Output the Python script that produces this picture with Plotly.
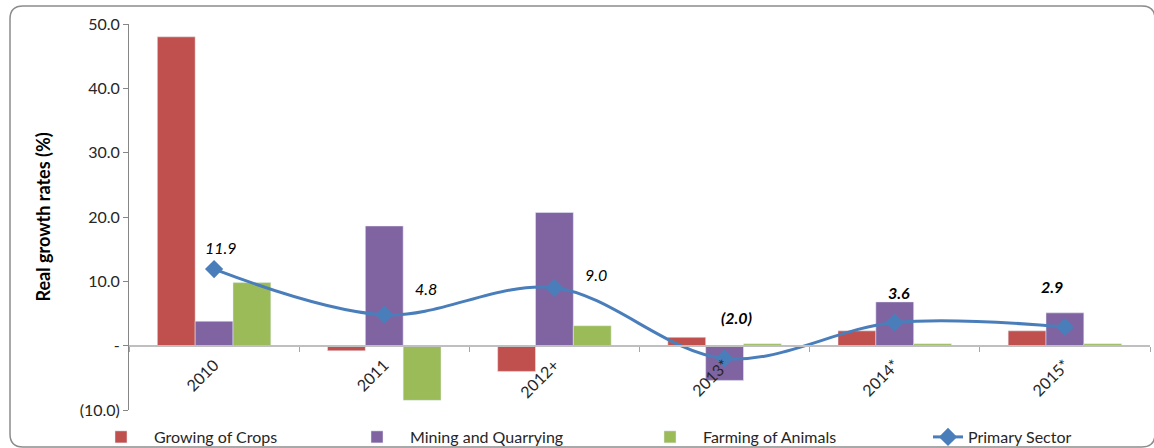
import plotly.graph_objects as go

# ---- data ----
categories = ['2010', '2011', '2012+', '2013*', '2014*', '2015*']
growing_of_crops = [48.0, -0.8, -4.0, 1.3, 2.3, 2.3]
mining_and_quarrying = [3.8, 18.6, 20.7, -5.4, 6.8, 5.1]
farming_of_animals = [9.8, -8.5, 3.1, 0.3, 0.3, 0.3]
primary_sector = [11.9, 4.8, 9.0, -2.0, 3.6, 2.9]
y_tick_values = [-10, 0, 10, 20, 30, 40, 50]
y_tick_labels = ['(10.0)', '-', '10.0', '20.0', '30.0', '40.0', '50.0']

# ---- styling ----
W, H = 1154, 448
ML, MR, MT, MB = 129, 4, 24, 38
PW, PH = W - ML - MR, H - MT - MB
FONT = 'Lato'
TXT = '#262626'

def px_x(px):
    return (px - ML) / PW

def px_y(py):
    return (H - MB - py) / PH

def fmt(v):
    return f'({abs(v):.1f})' if v < 0 else f'{v:.1f}'

label_offsets = [(7, 22), (42, 26), (42, 13), (12, 41), (4, 30), (-13, 41)]
label_bold = [False, False, False, True, True, True]

fig = go.Figure()
fig.add_trace(go.Bar(x=categories, y=growing_of_crops, name='Growing of Crops',
                     marker=dict(color='#C0504D'), legend='legend'))
fig.add_trace(go.Bar(x=categories, y=mining_and_quarrying, name='Mining and Quarrying',
                     marker=dict(color='#8064A2'), legend='legend2'))
fig.add_trace(go.Bar(x=categories, y=farming_of_animals, name='Farming of Animals',
                     marker=dict(color='#9BBB59'), legend='legend3'))
fig.add_trace(go.Scatter(x=categories, y=primary_sector, name='Primary Sector',
                         mode='lines+markers',
                         line=dict(color='#4A7EBB', width=3, shape='spline', smoothing=1),
                         marker=dict(symbol='diamond', size=14, color='#4A7EBB'),
                         legend='legend4'))

annotations = []
for i, (v, (dx, dy), b) in enumerate(zip(primary_sector, label_offsets, label_bold)):
    t = f'<i>{fmt(v)}</i>'
    if b:
        t = f'<b>{t}</b>'
    annotations.append(dict(x=i, y=v, xref='x', yref='y', text=t, showarrow=False,
                            xshift=dx, yshift=dy,
                            font=dict(family=FONT, size=16, color='#000000')))

# rounded border
x0, x1, y0, y1, r = px_x(10), px_x(1155), px_y(6), px_y(447), 13
rx, ry = r / PW, r / PH
path = (f'M {x0+rx},{y0} L {x1-rx},{y0} Q {x1},{y0} {x1},{y0-ry} '
        f'L {x1},{y1+ry} Q {x1},{y1} {x1-rx},{y1} '
        f'L {x0+rx},{y1} Q {x0},{y1} {x0},{y1+ry} '
        f'L {x0},{y0-ry} Q {x0},{y0} {x0+rx},{y0} Z')

leg_common = dict(orientation='h', xanchor='left', yanchor='middle', y=px_y(437),
                  font=dict(family=FONT, size=16, color=TXT), bgcolor='rgba(0,0,0,0)')

fig.update_layout(
    width=W, height=H, autosize=False, showlegend=True,
    margin=dict(l=ML, r=MR, t=MT, b=MB, pad=0, autoexpand=False),
    paper_bgcolor='white', plot_bgcolor='white',
    barmode='group', bargap=0.333, bargroupgap=0,
    font=dict(family=FONT, size=16, color=TXT),
    xaxis=dict(type='category', range=[-0.5, 5.5], anchor='free', position=px_y(345.5),
               showline=True, linecolor='#BFBFBF', linewidth=2,
               ticks='outside', tickson='boundaries', ticklen=5, tickcolor='#A6A6A6',
               tickangle=-45, showgrid=False, zeroline=False, ticklabelstandoff=3,
               tickfont=dict(family=FONT, size=16, color=TXT)),
    yaxis=dict(range=[-10, 50], tickvals=y_tick_values, ticktext=y_tick_labels,
               showline=True, linecolor='#868686', linewidth=1,
               ticks='outside', ticklen=5, tickcolor='#868686',
               showgrid=False, zeroline=False,
               tickfont=dict(family=FONT, size=16, color=TXT),
               title=dict(text='<b>Real growth rates (%)</b>', standoff=24,
                          font=dict(family=FONT, size=18, color='#000000'))),
    legend=dict(x=px_x(88), itemwidth=56, **leg_common),
    legend2=dict(x=px_x(344), itemwidth=56, **leg_common),
    legend3=dict(x=px_x(637), itemwidth=56, **leg_common),
    legend4=dict(x=px_x(928), itemwidth=30, **leg_common),
    annotations=annotations,
    shapes=[dict(type='path', path=path, xref='paper', yref='paper',
                 line=dict(color='#8C8C8C', width=1.5), layer='below')],
)

fig.write_html('out.html')
